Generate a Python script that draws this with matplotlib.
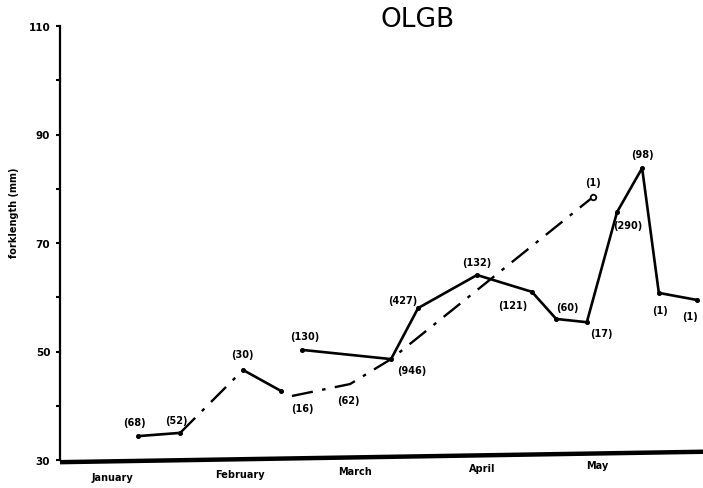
import matplotlib
matplotlib.use("Agg")
import matplotlib.pyplot as plt
import numpy as np

nan = np.nan

# Month labels and the day-of-year where each label sits
months = ["January", "February", "March", "April", "May"]
month_day = [15, 47, 76, 108, 137]

# Consecutive samples (solid line); NaN breaks the line
solid_day = [21.5, 32.1, nan, 47.9, 57.5, nan, 62.7, 85.1, 91.9, 106.7,
             120.5, 126.6, 134.3, 141.9, 148.2, 152.4, 162.0]
solid_len = [34.4, 35.0, nan, 46.6, 42.7, nan, 50.3, 48.6, 58.0, 64.1,
             61.0, 56.0, 55.4, 75.7, 83.8, 60.8, 59.5]

# Links across sampling gaps (dash-dot line)
dash_day = [32.1, 47.9, nan, 60.2, 74.8, 85.1, 135.9]
dash_len = [35.0, 46.6, nan, 41.8, 44.0, 48.6, 78.5]

# Sample sizes (n) shown beside each sampling point
n_day = [21.5, 32.1, 47.9, 60.2, 62.7, 74.8, 85.1, 91.9, 106.7, 120.5,
         126.6, 134.3, 135.9, 141.9, 148.2, 152.4, 162.0]
n_len = [34.4, 35.0, 46.6, 41.8, 50.3, 44.0, 48.6, 58.0, 64.1, 61.0,
         56.0, 55.4, 78.5, 75.7, 83.8, 60.8, 59.5]
n_fish = [68, 52, 30, 16, 130, 62, 946, 427, 132, 121,
          60, 17, 1, 290, 98, 1, 1]
# label placement relative to each point (pixels: right, up)
n_offset = [(-4, 14), (-4, 13), (-1, 16), (10, -12), (3, 14), (-2, -16),
            (21, -11), (-15, 8), (0, 13), (-19, -13), (11, 12), (15, -11),
            (0, 15), (11, -13), (0, 14), (1, -17), (-7, -16)]

y_major = [30, 50, 70, 90, 110]
y_minor = [40, 60, 80, 100]

W, H = 703, 489
fig = plt.figure(figsize=(W / 100, H / 100), dpi=100)
ax = fig.add_axes([60 / W, 1 - 461 / H, 643 / W, 434 / H])

ax.set_xlim(1.9, 163.5)
ax.set_ylim(30, 110)

ax.plot(solid_day, solid_len, color="black", lw=1.9, solid_capstyle="round",
        solid_joinstyle="round", marker="o", markersize=2.6, zorder=3)
ax.plot(dash_day, dash_len, color="black", lw=1.7,
        linestyle=(0, (9, 4, 1.5, 4)), zorder=2)
ax.plot([dash_day[-1]], [dash_len[-1]], marker="o", markersize=4,
        markerfacecolor="white", markeredgecolor="black", mew=1.3, zorder=4)

for d, v, n, (dx, dy) in zip(n_day, n_len, n_fish, n_offset):
    ax.annotate(f"({n})", (d, v), xytext=(dx, dy), textcoords="offset pixels",
                ha="center", va="center", fontsize=7, fontweight="bold",
                color="black", annotation_clip=False)

# spines and ticks
for side in ("top", "right", "bottom"):
    ax.spines[side].set_visible(False)
ax.spines["left"].set_linewidth(1.6)
ax.set_yticks(y_major)
ax.set_yticks(y_minor, minor=True)
ax.set_yticklabels([str(v) for v in y_major], fontsize=7.5, fontweight="bold")
ax.tick_params(axis="y", which="both", direction="out", length=3, width=1.5,
               pad=4)
ax.set_xticks([])

# heavy baseline, drawn with the slight tilt of the printed sheet
ax.plot([0, 1], [-0.005, 0.019], transform=ax.transAxes, color="black",
        lw=3.2, clip_on=False, solid_capstyle="butt", zorder=5)

# month names under the baseline
x_px = lambda d: 60 + (d - 1.9) / (163.5 - 1.9) * 643
for name, d in zip(months, month_day):
    ypx = 478 - (x_px(d) - 112) * (12 / 484)
    fig.text(x_px(d) / W, 1 - ypx / H, name, ha="center", va="center",
             fontsize=7, fontweight="bold")

fig.text(14 / W, 1 - 213 / H, "forklength (mm)", rotation=90, ha="center",
         va="center", fontsize=7, fontweight="bold")
fig.text(418 / W, 1 - 20 / H, "OLGB", ha="center", va="center", fontsize=19)

fig.savefig("out.png", dpi=100)
